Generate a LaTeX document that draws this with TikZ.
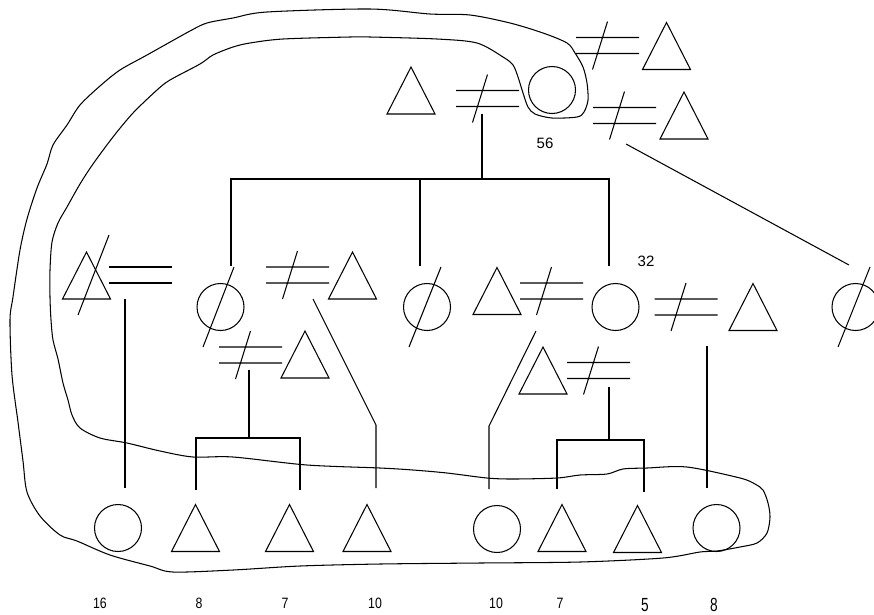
\documentclass[tikz,border=0pt]{standalone}
\usepackage{fontspec}
\setmainfont{Liberation Sans}
\usetikzlibrary{calc}
\tikzset{
  lw/.style={line width=1.05pt},
  pers/.style={circle, draw, line width=1.05pt, minimum size=47pt, inner sep=0pt},
  tri/.pic={\draw[line width=1.05pt, line join=miter] (0,-23.5) -- (24,23.5) -- (-24,23.5) -- cycle; \coordinate (-c) at (0,0);},
  neq/.pic={\draw[line width=1.05pt] (-31.5,-8) -- (31.5,-8) (-31.5,8) -- (31.5,8) (0,-24) -- (-15,24); \coordinate (-c) at (0,0);},
  eqs/.pic={\draw[line width=1.05pt] (-31.5,-8) -- (31.5,-8) (-31.5,8) -- (31.5,8); \coordinate (-c) at (0,0);},
  lbl/.style={font=\fontsize{15}{15}\selectfont, inner sep=0pt},
}
\newcommand{\narrow}[2]{\scalebox{#1}[1]{#2}}
\begin{document}
\begin{tikzpicture}[x=1pt,y=-1pt]
\useasboundingbox (0,0) rectangle (874,614);
\clip (0,0) rectangle (874,614);
\fill[white] (0,0) rectangle (874,614);

% ---------- enclosing loop ----------
\draw[lw] plot[smooth cycle, tension=0.5] coordinates {
 (370,37) (437,39) (477,43) (503,57) (513,65) (518,77) (523,93) (528,107) (535,114)
 (552,118) (577,117) (584,112) (588,100) (587,83) (583,67) (575,53) (567,43) (543,33)
 (510,23) (470,15) (430,14) (370,9) (267,12) (233,18) (207,23) (190,31)
 (147,55) (120,70) (100,86) (80,105) (67,125) (53,145) (47,164) (37,188) (27,219)
 (20,250) (13,297) (10,320) (12,375) (18,422) (23,461) (27,492) (40,516) (60,535)
 (77,541) (110,555) (150,566) (173,572) (233,570) (300,566) (380,564) (480,563)
 (580,562) (663,558) (700,552) (717,551) (740,547) (757,543) (767,533) (770,517)
 (768,503) (763,490) (755,484) (740,478) (687,467) (647,468) (623,469) (607,474)
 (580,475) (557,478) (513,479) (487,478) (447,473) (413,470) (380,468) (307,465)
 (233,457) (193,457) (160,451) (127,443) (100,438) (80,428) (72,415) (68,400)
 (63,383) (58,359) (53,340) (51,320) (50,297) (50,270) (52,242) (58,223) (67,207)
 (80,184) (93,164) (113,137) (133,113) (157,90) (170,80) (200,64) (213,55)
 (233,47) (250,43) (283,39) (350,37)};

% ---------- generation 1 ----------
\pic (Ta) at (411,90.5) {tri};
\pic (N1) at (487.5,98.5) {neq};
\node[pers] (Ctop) at (552,90) {};
\pic (N2) at (607.5,45.5) {neq};
\pic (Tb) at (666.5,46) {tri};
\pic (N3) at (624.5,115.5) {neq};
\pic (Tc) at (684,115.5) {tri};
\node[lbl] (L56) at (545,143) {56};

% ---------- generation 2 ----------
\pic (Td) at (86.5,275.5) {tri};
\draw[lw] ($(Td-c)+(22.5,-40.5)$) -- ++(-31,80);
\pic (E1) at (140.5,275) {eqs};
\node[pers] (Ce) at (220.5,307) {};
\draw[lw] ($(Ce.center)+(13.5,-40)$) -- ++(-31,80);
\pic (N4) at (297.5,275) {neq};
\pic (Tf) at (352.5,275.5) {tri};
\node[pers] (Cg) at (427,307) {};
\draw[lw] ($(Cg.center)+(14,-40)$) -- ++(-32,80);
\pic (Th) at (497,291) {tri};
\pic (N5) at (551.5,291) {neq};
\node[pers] (Ci) at (615.5,307) {};
\node[lbl] (L32) at (646,261) {32};
\pic (N6) at (686,307) {neq};
\pic (Tj) at (753,307) {tri};
\node[pers] (Ck) at (855.5,307) {};
\draw[lw] ($(Ck.center)+(14.5,-40)$) -- ++(-32,80);
\pic (N7) at (250.5,355) {neq};
\pic (Tl) at (305,354.5) {tri};
\pic (Tm) at (543,370.5) {tri};
\pic (N8) at (598.5,370.5) {neq};

% ---------- generation 3 ----------
\node[pers] (B1) at (118,528) {};
\pic (B2) at (195.5,528) {tri};
\pic (B3) at (289.5,528) {tri};
\pic (B4) at (367,528) {tri};
\node[pers] (B5) at (497,529) {};
\pic (B6) at (562,528) {tri};
\pic (B7) at (637.5,529) {tri};
\node[pers] (B8) at (716.5,528) {};

\node[lbl] (l1) at (100,603) {\narrow{0.82}{16}};
\node[lbl] (l2) at (199,603) {\narrow{0.82}{8}};
\node[lbl] (l3) at (285,603) {\narrow{0.82}{7}};
\node[lbl] (l4) at (375,603) {\narrow{0.82}{10}};
\node[lbl] (l5) at (496,603) {\narrow{0.82}{10}};
\node[lbl] (l6) at (560,603) {\narrow{0.82}{7}};
\node[lbl, font=\fontsize{19}{19}\selectfont] (l7) at (645,605) {\narrow{0.72}{5}};
\node[lbl, font=\fontsize{19}{19}\selectfont] (l8) at (714,605) {\narrow{0.72}{8}};

% ---------- connectors ----------
\coordinate (m1) at (482,114);
\coordinate (s1) at (482,179);
\coordinate (d1) at (231,266);
\coordinate (d2) at (420,266);
\coordinate (d3) at (609,266);
\draw[lw] (m1) -- (s1);
\draw[lw] (d1) |- (s1) -| (d3);
\draw[lw] (s1 -| d2) -- (d2);

\coordinate (e1) at (125,299);
\coordinate (e1b) at (125,488);
\draw[lw] (e1) -- (e1b);

\coordinate (n4a) at (313,299);
\coordinate (n4b) at (376,425);
\coordinate (n4c) at (376,488);
\draw[lw] (n4a) -- (n4b) -- (n4c);

\coordinate (n7a) at (249,370);
\coordinate (n7b) at (249,438);
\coordinate (n7l) at (196,490);
\coordinate (n7r) at (300,490);
\draw[lw] (n7a) -- (n7b);
\draw[lw] (n7l) |- (n7b) -| (n7r);

\coordinate (n5a) at (536,331);
\coordinate (n5b) at (489,426);
\coordinate (n5c) at (489,489);
\draw[lw] (n5a) -- (n5b) -- (n5c);

\coordinate (n8a) at (609,387);
\coordinate (n8b) at (609,440);
\coordinate (n8l) at (557,489);
\coordinate (n8r) at (644,492);
\draw[lw] (n8a) -- (n8b);
\draw[lw] (n8l) |- (n8b) -| (n8r);

\coordinate (n6a) at (707,346);
\coordinate (n6b) at (707,488);
\draw[lw] (n6a) -- (n6b);

\coordinate (n3a) at (626,144);
\coordinate (n3b) at (849,265);
\draw[lw] (n3a) -- (n3b);
\end{tikzpicture}
\end{document}
